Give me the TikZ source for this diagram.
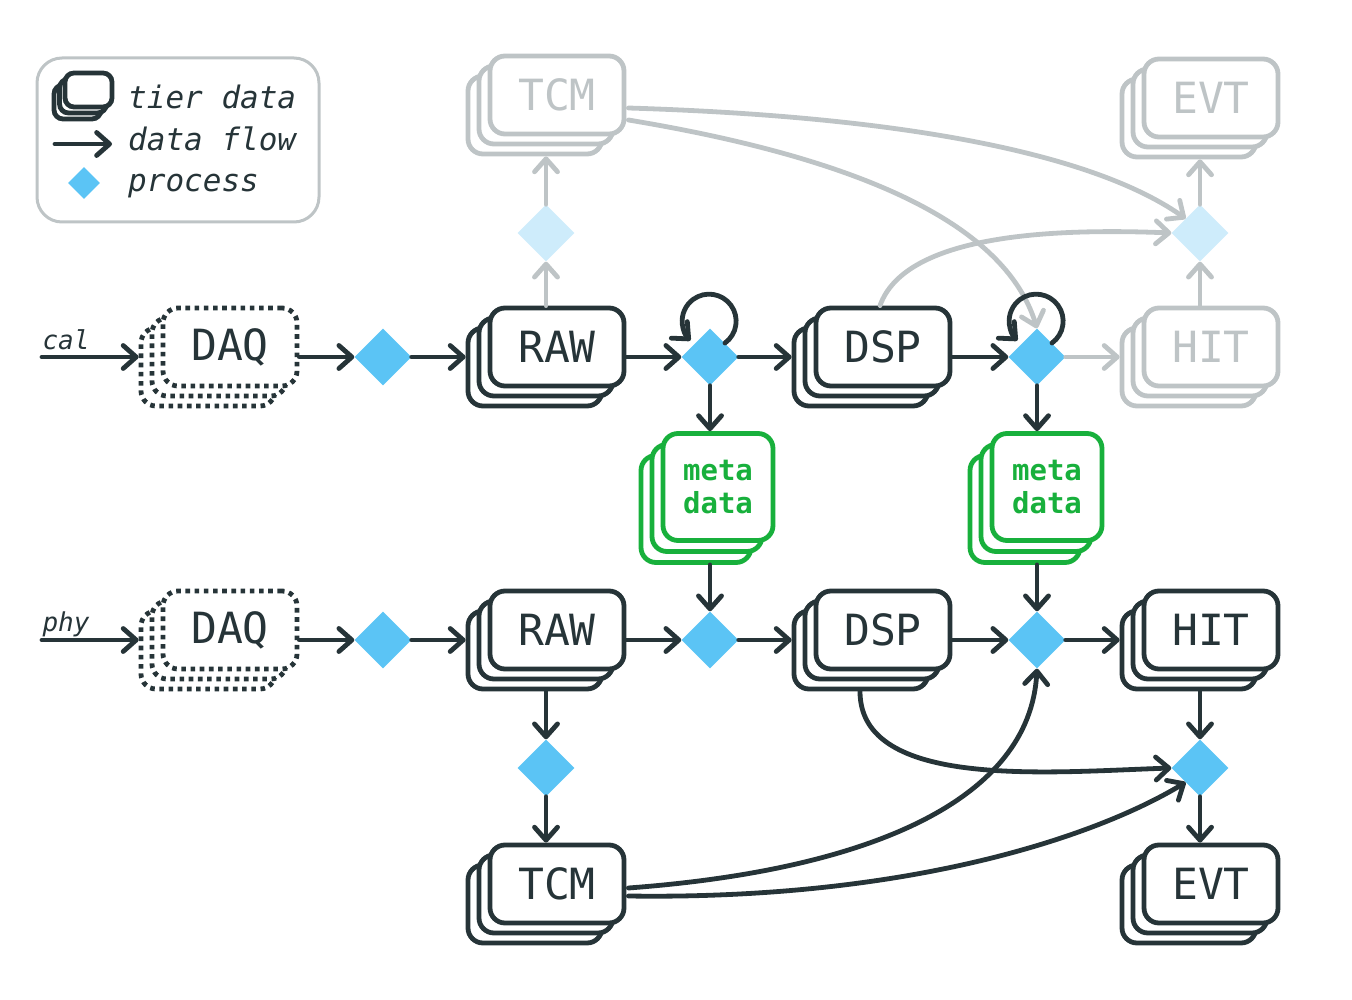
\documentclass[tikz,border=0pt]{standalone}
\usepackage{fontspec}
\newfontfamily\mono{DejaVu Sans Mono}
\usetikzlibrary{arrows.meta,shapes.geometric,calc}
\definecolor{dk}{RGB}{38,52,56}
\definecolor{gr}{RGB}{190,196,198}
\definecolor{bl}{RGB}{91,196,245}
\definecolor{lbl}{RGB}{206,236,251}
\definecolor{gn}{RGB}{24,176,60}
\tikzset{
  tierbox/.style={draw=dk, line width=4.8pt, fill=white, rounded corners=15pt,
    minimum width=134pt, minimum height=78pt, inner sep=0pt, text=dk,
    font=\mono\fontsize{43}{43}\selectfont},
  graybox/.style={draw=gr, text=gr},
  dotbox/.style={dash pattern=on 4.6pt off 4.6pt},
  metabox/.style={draw=gn, text=gn, minimum width=110pt, minimum height=107pt,
    font=\mono\bfseries\fontsize{29}{33}\selectfont, align=center},
  iconbox/.style={draw=dk, line width=4.8pt, fill=white, rounded corners=9pt,
    minimum width=47pt, minimum height=34pt, inner sep=0pt},
  proc/.style={diamond, aspect=1, fill=bl, minimum width=57pt, minimum height=57pt, inner sep=0pt},
  lproc/.style={proc, fill=lbl},
  flow/.style={draw=dk, line width=4.8pt, line cap=round,
    -{Straight Barb[length=13pt,width=23pt,round]}},
  gflow/.style={flow, draw=gr},
  legtext/.style={anchor=base west, text=dk, font=\mono\itshape\fontsize{31}{31}\selectfont, inner sep=0pt},
  rowtext/.style={anchor=base, text=dk, font=\mono\itshape\fontsize{26}{26}\selectfont, inner sep=0pt},
}
\newcommand{\tierstack}[5]{%
  \node[tierbox,#5] (#1-back) at (#2-11,#3+10) {};
  \node[tierbox,#5] (#1) at (#2,#3) {};
  \node[tierbox,#5] (#1-front) at (#2+11,#3-10) {#4};
}
\newcommand{\metastack}[3]{%
  \node[tierbox,metabox] (#1-back) at (#2-11,#3+11) {};
  \node[tierbox,metabox] (#1) at (#2,#3) {};
  \node[tierbox,metabox] (#1-front) at (#2+11,#3-11) {meta\\data};
}
\begin{document}
\begin{tikzpicture}[x=1pt,y=-1pt]
\useasboundingbox (0,0) rectangle (1352,1000);

% legend
\node[draw=gr, line width=3pt, rounded corners=25pt, minimum width=282pt,
  minimum height=164pt, inner sep=0pt] (legend) at (178,140) {};
\node[iconbox] (ic-back) at (77.5,102) {};
\node[iconbox] (ic-mid) at (83,96) {};
\node[iconbox] (ic-front) at (88.5,90) {};
\coordinate (la) at (55,144);
\coordinate (lb) at (112,144);
\draw[flow] (la) -- (lb);
\node[proc, minimum width=32pt, minimum height=32pt] (lp) at (84,183) {};
\node[legtext] (t1) at (128,109) {tier data};
\node[legtext] (t2) at (128,151) {data flow};
\node[legtext] (t3) at (128,192) {process};

% row labels
\node[rowtext] (cal) at (66,349) {cal};
\node[rowtext] (phy) at (66,631) {phy};
\coordinate (cals) at (42,357);
\coordinate (phys) at (42,640);

% cal row
\tierstack{DAQc}{219}{357}{DAQ}{dotbox}
\node[proc] (P1c) at (383,357) {};
\tierstack{RAWc}{546}{357}{RAW}{}
\node[proc] (P2c) at (710,357) {};
\tierstack{DSPc}{872}{357}{DSP}{}
\node[proc] (P3c) at (1037,357) {};
\tierstack{HITg}{1200}{357}{HIT}{graybox}
\node[lproc] (PT) at (546,233) {};
\tierstack{TCMg}{546}{105}{TCM}{graybox}
\node[lproc] (PE) at (1200,233) {};
\tierstack{EVTg}{1200}{108}{EVT}{graybox}

% meta data
\metastack{M1}{707}{498}
\metastack{M2}{1036}{498}

% phy row
\tierstack{DAQp}{219}{640}{DAQ}{dotbox}
\node[proc] (P1p) at (383,640) {};
\tierstack{RAWp}{546}{640}{RAW}{}
\node[proc] (P2p) at (710,640) {};
\tierstack{DSPp}{872}{640}{DSP}{}
\node[proc] (P3p) at (1037,640) {};
\tierstack{HITp}{1200}{640}{HIT}{}
\node[proc] (PTp) at (546,768) {};
\tierstack{TCMp}{546}{894}{TCM}{}
\node[proc] (PEp) at (1200,768) {};
\tierstack{EVTp}{1200}{894}{EVT}{}

% gray connectors
\draw[gflow] (RAWc |- RAWc-front.north) -- (PT);
\draw[gflow] (PT) -- (PT |- TCMg-back.south);
\draw[gflow] (HITg |- HITg-front.north) -- (PE);
\draw[gflow] (PE) -- (PE |- EVTg-back.south);
\draw[gflow] (P3c) -- (HITg-back.west |- HITg);
\coordinate (g1s) at ($(TCMg-front.east)+(2,13)$);
\coordinate (g2s) at ($(TCMg-front.east)+(2,25)$);
\coordinate (g3s) at ($(DSPc-front.north)+(-3,0)$);
\draw[gflow] (g1s) .. controls (950,118) and (1110,165) .. (PE.north west);
\draw[gflow] (g2s) .. controls (900,165) and (1010,240) .. (P3c.north);
\draw[gflow] (g3s) .. controls (905,235) and (1050,228) .. (PE.west);

% cal row connectors
\draw[flow] (cals) -- (DAQc-back.west |- DAQc);
\draw[flow] (DAQc-front.east |- DAQc) -- (P1c);
\draw[flow] (P1c) -- (RAWc-back.west |- RAWc);
\draw[flow] (RAWc-front.east |- RAWc) -- (P2c);
\draw[flow] (P2c) -- (DSPc-back.west |- DSPc);
\draw[flow] (DSPc-front.east |- DSPc) -- (P3c);
\draw[flow] ($(P2c)+(15,-14)$) arc[start angle=-54, end angle=226, radius=27pt];
\draw[flow] ($(P3c)+(15,-14)$) arc[start angle=-54, end angle=226, radius=27pt];
\draw[flow] (P2c) -- (P2c |- M1-front.north);
\draw[flow] (P3c) -- (P3c |- M2-front.north);
\draw[flow] (P2p |- M1-back.south) -- (P2p);
\draw[flow] (P3p |- M2-back.south) -- (P3p);

% phy row connectors
\draw[flow] (phys) -- (DAQp-back.west |- DAQp);
\draw[flow] (DAQp-front.east |- DAQp) -- (P1p);
\draw[flow] (P1p) -- (RAWp-back.west |- RAWp);
\draw[flow] (RAWp-front.east |- RAWp) -- (P2p);
\draw[flow] (P2p) -- (DSPp-back.west |- DSPp);
\draw[flow] (DSPp-front.east |- DSPp) -- (P3p);
\draw[flow] (P3p) -- (HITp-back.west |- HITp);
\draw[flow] (RAWp |- RAWp-back.south) -- (PTp);
\draw[flow] (PTp) -- (PTp |- TCMp-front.north);
\draw[flow] (HITp |- HITp-back.south) -- (PEp);
\draw[flow] (PEp) -- (PEp |- EVTp-front.north);
\coordinate (d4s) at ($(DSPp-back.south)+(-1,0)$);
\coordinate (t5s) at ($(TCMp-front.east)+(2,4)$);
\coordinate (t6s) at ($(TCMp-front.east)+(2,12)$);
\draw[flow] (d4s) .. controls (860,790) and (1050,772) .. (PEp.west);
\draw[flow] (t5s) .. controls (870,870) and (1030,800) .. (P3p.south);
\draw[flow] (t6s) .. controls (900,900) and (1090,840) .. (PEp.south west);
\end{tikzpicture}
\end{document}
